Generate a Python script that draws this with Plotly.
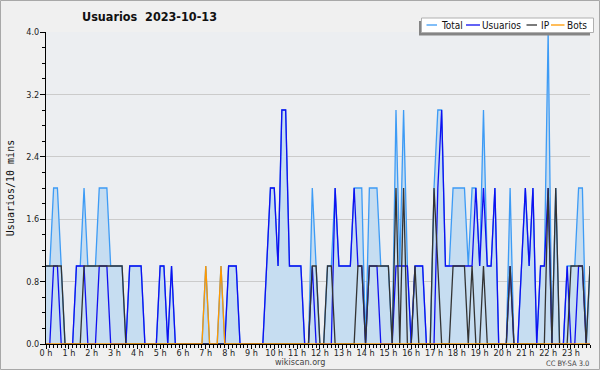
import plotly.graph_objects as go

# 10-minute bins, 144 per day
bins = list(range(144))
hour_labels = [f"{h} h" for h in range(24)]
hour_positions = [h * 6 for h in range(24)]

total = [1,1,2,2,1,0,0,0,1,1,2,1,
         1,1,2,2,2,1,1,1,1,0,1,1,
         1,1,0,0,0,0,1,1,0,1,0,0,
         0,0,0,0,0,0,1,0,0,0,1,0,
         1,1,1,0,0,0,0,0,0,0,1,2,
         2,1,3,3,1,1,1,1,0,0,2,1,
         0,0,1,1,2,1,1,1,1,2,2,2,
         0,2,2,2,1,1,1,0,3,1,3,1,
         0,1,1,1,0,0,2,3,3,1,1,2,
         2,2,2,1,2,2,1,3,1,1,2,0,
         0,0,2,0,0,1,2,1,2,0,1,1,
         4,0,2,0,0,1,1,1,2,2,0,1]
usuarios = [0,0,1,1,0,0,0,0,1,1,1,0,
            0,0,1,1,1,0,0,0,0,0,1,1,
            1,1,0,0,0,0,1,1,0,1,0,0,
            0,0,0,0,0,0,0,0,0,0,0,0,
            1,1,1,0,0,0,0,0,0,0,1,2,
            2,1,3,3,1,1,1,1,0,0,1,0,
            0,0,0,0,2,1,1,1,1,2,1,1,
            0,1,1,1,0,0,0,0,1,1,1,1,
            0,1,1,1,0,0,0,2,3,1,1,1,
            1,1,1,1,1,2,1,2,1,1,2,0,
            0,0,1,0,0,1,2,1,2,0,1,1,
            2,0,0,0,0,1,0,0,1,1,0,0]
ip = [1,1,1,1,1,0,0,0,0,0,1,1,
      1,1,1,1,1,1,1,1,1,0,0,0,
      0,0,0,0,0,0,0,0,0,0,0,0,
      0,0,0,0,0,0,0,0,0,0,0,0,
      0,0,0,0,0,0,0,0,0,0,0,0,
      0,0,0,0,0,0,0,0,0,0,1,1,
      0,0,1,1,0,0,0,0,0,0,1,1,
      0,1,1,1,1,1,1,0,2,0,2,0,
      0,1,0,0,0,0,2,1,0,0,0,1,
      1,1,1,0,1,0,0,1,0,0,0,0,
      0,0,1,0,0,0,0,0,0,0,0,0,
      2,0,2,0,0,0,1,1,1,1,0,1]
bots = [0]*36 + [0,0,0,0,0,0,1,0,0,0,1,0] + [0]*96

series_names = ["Total", "Usuarios", "IP", "Bots"]
series_colors = ["#3D9BF5", "#0F0FF0", "#333333", "#FF9900"]

L, T, W, H = 46, 32, 544, 312
def px(x):
    return (x - L) / W
def py(y):
    return (T + H - y) / H

fig = go.Figure()
fig.add_trace(go.Scatter(x=bins, y=total, mode="lines", fill="tozeroy",
                         fillcolor="#C6DDF1", line=dict(color=series_colors[0], width=1.3),
                         name="Total", hoverinfo="skip"))
fig.add_trace(go.Scatter(x=bins, y=usuarios, mode="lines",
                         line=dict(color=series_colors[1], width=1.3), name="Usuarios"))
fig.add_trace(go.Scatter(x=bins, y=ip, mode="lines",
                         line=dict(color=series_colors[2], width=1.3), name="IP"))
fig.add_trace(go.Scatter(x=bins, y=bots, mode="lines",
                         line=dict(color=series_colors[3], width=1.3), name="Bots"))

COND = "DejaVu Sans Condensed, DejaVu Sans, sans-serif"

shapes = []
annotations = []
# outer frame
shapes.append(dict(type="rect", xref="paper", yref="paper",
                   x0=px(0.5), x1=px(599.5), y0=py(369.5), y1=py(0.5),
                   line=dict(color="#A8A8A8", width=1), fillcolor="rgba(0,0,0,0)", layer="above"))
# legend shadow + box
shapes.append(dict(type="rect", xref="paper", yref="paper",
                   x0=px(419), x1=px(590), y0=py(35.5), y1=py(21),
                   line=dict(width=0), fillcolor="#858585", layer="above"))
shapes.append(dict(type="rect", xref="paper", yref="paper",
                   x0=px(421.5), x1=px(593.5), y0=py(32.5), y1=py(18),
                   line=dict(color="#B0B0B0", width=1), fillcolor="white", layer="above"))
leg_items = [(426.5, 437, 442.5), (466, 480, 483.5), (526.5, 537, 542), (551, 564.5, 568)]
for (lx0, lx1, tx), name, col in zip(leg_items, series_names, series_colors):
    shapes.append(dict(type="line", xref="paper", yref="paper",
                       x0=px(lx0), x1=px(lx1), y0=py(25), y1=py(25),
                       line=dict(color=col, width=1.3), layer="above"))
    annotations.append(dict(text=name, xref="paper", yref="paper", x=px(tx - 2.5), y=py(25),
                            xanchor="left", yanchor="middle", showarrow=False, borderpad=0,
                            font=dict(family=COND, size=10, color="#111")))
# footer
annotations.append(dict(text="wikiscan.org", xref="paper", yref="paper", x=px(300), y=py(362),
                        xanchor="center", yanchor="middle", showarrow=False, borderpad=0,
                        font=dict(family=COND, size=9, color="#444")))
annotations.append(dict(text="CC BY-SA 3.0", xref="paper", yref="paper", x=px(590), y=py(363),
                        xanchor="right", yanchor="middle", showarrow=False, borderpad=0,
                        font=dict(family=COND, size=7.5, color="#444")))

fig.update_layout(
    width=600, height=370,
    margin=dict(l=L, r=600 - L - W, t=T, b=370 - T - H, pad=0, autoexpand=False),
    paper_bgcolor="#F0F0F0", plot_bgcolor="#ECEEF1",
    showlegend=False,
    title=dict(text="Usuarios\u00a0\u00a02023-10-13", x=82 / 600, xanchor="left",
               xref="container", y=1 - 17 / 370, yref="container", yanchor="middle",
               font=dict(family=COND, size=12.5, color="#111", weight="bold")),
    xaxis=dict(range=[0, 143], tickmode="array", tickvals=hour_positions, ticktext=hour_labels,
               ticks="outside", ticklen=4, tickcolor="black", showline=True, linecolor="black",
               linewidth=1, showgrid=False, zeroline=False, automargin=False,
               ticklabelstandoff=-4,
               tickfont=dict(family=COND, size=9, color="#222"),
               minor=dict(ticks="outside", ticklen=3, tickcolor="black", tick0=0, dtick=1, showgrid=False)),
    yaxis=dict(range=[0, 4], tick0=0, dtick=0.8, tickformat=".1f", ticks="outside", ticklen=5,
               tickcolor="black", showline=True, linecolor="black", linewidth=1,
               showgrid=True, gridcolor="#CBCBCB", gridwidth=1, zeroline=False, automargin=False,
               ticklabelstandoff=-1,
               tickfont=dict(family=COND, size=9, color="#222"),
               title=dict(text="Usuarios/10 mins", standoff=9,
                          font=dict(family="DejaVu Sans Mono, monospace", size=10, color="#111")),
               minor=dict(ticks="outside", ticklen=3, tickcolor="black", tick0=0, dtick=0.2, showgrid=False)),
    shapes=shapes, annotations=annotations,
)

fig.write_html("out.html", config={"displayModeBar": False},
               post_script="document.body.style.margin='0';document.body.style.padding='0';document.body.style.overflow='hidden';")
